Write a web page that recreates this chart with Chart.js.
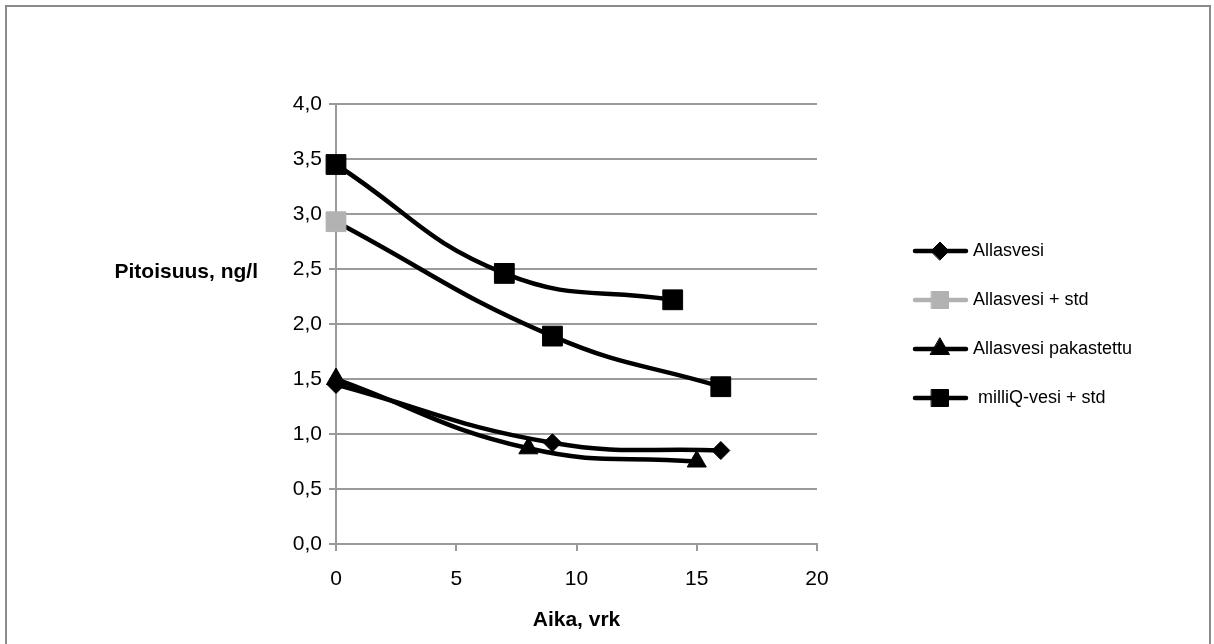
<!DOCTYPE html>
<html>
<head>
<meta charset="utf-8">
<script src="https://cdn.jsdelivr.net/npm/chart.js@4/dist/chart.umd.min.js"></script>
<style>
  html, body { margin: 0; padding: 0; background: #fff; }
</style>
</head>
<body>
<canvas id="chart" width="1214" height="644"></canvas>
<script>
// series names, in legend order
const seriesNames = ['Allasvesi', 'Allasvesi + std', 'Allasvesi pakastettu', 'milliQ-vesi + std'];

// x = aika (vrk), y = pitoisuus (ng/l)
const allasvesiDays = [0, 9, 16];
const allasvesiValues = [1.45, 0.92, 0.85];

const stdDays = [0, 9, 16];
const stdValues = [2.93, 1.89, 1.43];

const frozenDays = [0, 8, 15];
const frozenValues = [1.5, 0.87, 0.75];

const milliqDays = [0, 7, 14];
const milliqValues = [3.45, 2.46, 2.22];

const xTicks = [0, 5, 10, 15, 20];
const yTicks = [0, 0.5, 1, 1.5, 2, 2.5, 3, 3.5, 4];

const FONT = 'Liberation Sans';
const GREY = '#b2b2b2';
const GRID = '#9a9a9a';

function toPoints(xs, ys) {
  return xs.map((x, i) => ({ x: x, y: ys[i] }));
}
function fmt(v) {
  return v.toFixed(1).replace('.', ',');
}

// marker style per legend row
const legendRows = [
  { style: 'rectRot', radius: 9, color: '#000' },
  { style: 'rect', radius: 12, color: GREY },
  { style: 'triangle', radius: 11, color: '#000' },
  { style: 'rect', radius: 12, color: '#000' }
];

const frame = {
  id: 'frame',
  beforeDraw(chart) {
    const ctx = chart.ctx;
    ctx.save();
    ctx.fillStyle = '#fff';
    ctx.fillRect(0, 0, chart.width, chart.height);
    ctx.strokeStyle = '#8a8a8a';
    ctx.lineWidth = 2;
    ctx.strokeRect(6, 6, 1204, 660);
    ctx.restore();
  },
  afterDraw(chart) {
    const ctx = chart.ctx;
    const area = chart.chartArea;
    ctx.save();
    // axis titles
    ctx.fillStyle = '#000';
    ctx.font = 'bold 21px "' + FONT + '"';
    ctx.textBaseline = 'middle';
    ctx.textAlign = 'right';
    ctx.fillText('Pitoisuus, ng/l', 258, 272);
    ctx.textAlign = 'center';
    ctx.fillText('Aika, vrk', (area.left + area.right) / 2, 620);

    // legend
    ctx.font = '18px "' + FONT + '"';
    ctx.textAlign = 'left';
    const rowY = [251, 300, 349, 398];
    seriesNames.forEach((name, i) => {
      const r = legendRows[i];
      const y = rowY[i];
      ctx.strokeStyle = r.color;
      ctx.lineWidth = 4.5;
      ctx.lineCap = 'round';
      ctx.beginPath();
      ctx.moveTo(915, y);
      ctx.lineTo(966, y);
      ctx.stroke();
      ctx.fillStyle = r.color;
      ctx.strokeStyle = r.color;
      ctx.lineWidth = 1;
      Chart.helpers.drawPoint(ctx, { pointStyle: r.style, radius: r.radius, borderWidth: 1 }, 940, y);
      ctx.fillStyle = '#000';
      ctx.fillText(i === 3 ? ' ' + name : name, 973, y);
    });
    ctx.restore();
  }
};

const lineStyle = {
  borderColor: '#000',
  borderWidth: 4.5,
  tension: 0.45,
  fill: false,
  clip: false,
  pointBorderWidth: 1
};

new Chart(document.getElementById('chart'), {
  type: 'line',
  data: {
    datasets: [
      Object.assign({}, lineStyle, {
        label: seriesNames[0],
        data: toPoints(allasvesiDays, allasvesiValues),
        pointStyle: 'rectRot',
        pointRadius: 9,
        pointBackgroundColor: '#000',
        pointBorderColor: '#000'
      }),
      Object.assign({}, lineStyle, {
        label: seriesNames[1],
        data: toPoints(stdDays, stdValues),
        pointStyle: 'rect',
        pointRadius: 14,
        pointBackgroundColor: [GREY, '#000', '#000'],
        pointBorderColor: [GREY, '#000', '#000']
      }),
      Object.assign({}, lineStyle, {
        label: seriesNames[2],
        data: toPoints(frozenDays, frozenValues),
        pointStyle: 'triangle',
        pointRadius: 11,
        pointBackgroundColor: '#000',
        pointBorderColor: '#000'
      }),
      Object.assign({}, lineStyle, {
        label: seriesNames[3],
        data: toPoints(milliqDays, milliqValues),
        pointStyle: 'rect',
        pointRadius: 14,
        pointBackgroundColor: '#000',
        pointBorderColor: '#000'
      })
    ]
  },
  options: {
    responsive: false,
    animation: false,
    layout: { padding: { left: 0, right: 397, top: 104, bottom: 0 } },
    plugins: {
      legend: { display: false },
      tooltip: { enabled: false }
    },
    scales: {
      x: {
        type: 'linear',
        min: 0,
        max: 20,
        afterFit: (scale) => { scale.height = 100; },
        afterBuildTicks: (scale) => { scale.ticks = xTicks.map(v => ({ value: v })); },
        grid: { drawOnChartArea: false, drawTicks: true, tickLength: 7, color: GRID, lineWidth: 2 },
        border: { display: true, color: GRID, width: 2 },
        ticks: { color: '#000', font: { family: FONT, size: 21 }, padding: 16, maxRotation: 0 }
      },
      y: {
        min: 0,
        max: 4,
        afterFit: (scale) => { scale.width = 336; },
        afterBuildTicks: (scale) => { scale.ticks = yTicks.map(v => ({ value: v })); },
        grid: { color: GRID, lineWidth: 2, drawTicks: true, tickLength: 7 },
        border: { display: true, color: GRID, width: 2 },
        ticks: { color: '#000', font: { family: FONT, size: 21 }, padding: 7, callback: (v) => fmt(v) }
      }
    }
  },
  plugins: [frame]
});
</script>
</body>
</html>
